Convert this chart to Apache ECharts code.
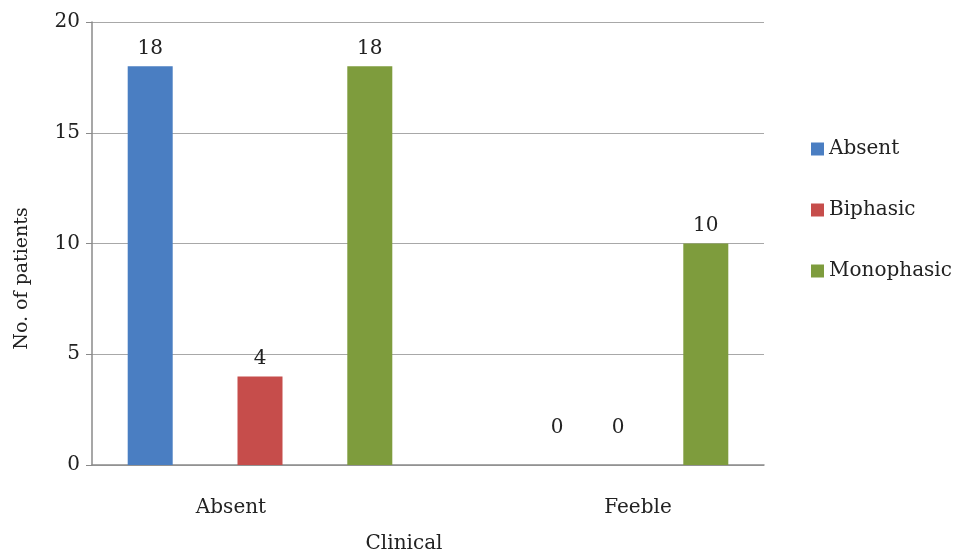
<!DOCTYPE html>
<html>
<head>
<meta charset="utf-8">
<script src="https://cdn.jsdelivr.net/npm/echarts@6/dist/echarts.min.js"></script>
<style>
html,body{margin:0;padding:0;background:#fff;}
#chart{width:956px;height:559px;}
</style>
</head>
<body>
<div id="chart"></div>
<script>
// Clinical pulse finding by Doppler waveform
var categories = ['Absent', 'Feeble'];
var seriesNames = ['Absent', 'Biphasic', 'Monophasic'];
var absentValues = [18, 0];
var biphasicValues = [4, 0];
var monophasicValues = [18, 10];
var yTicks = [0, 5, 10, 15, 20];

var colors = ['#4a7ec2', '#c64d4b', '#7e9c3d'];
var font = 'DejaVu Serif';
var fs = 20;

// zero-valued labels sit a little above the axis, shifted sideways
var zeroLabelShift = { 0: [71, -19], 1: [22, -19] };

function buildData(values, seriesIndex) {
  return values.map(function (v) {
    if (v === 0 && zeroLabelShift[seriesIndex]) {
      return { value: v, label: { offset: zeroLabelShift[seriesIndex] } };
    }
    return v;
  });
}

var valueSets = [absentValues, biphasicValues, monophasicValues];
var series = valueSets.map(function (vals, i) {
  return {
    name: seriesNames[i],
    type: 'bar',
    data: buildData(vals, i),
    barWidth: 45,
    barGap: '144%',
    itemStyle: { color: colors[i] },
    label: {
      show: true,
      position: 'top',
      distance: 8,
      color: '#222',
      fontFamily: font,
      fontSize: fs
    }
  };
});

var chart = echarts.init(document.getElementById('chart'));
chart.setOption({
  backgroundColor: '#fff',
  animation: false,
  textStyle: { fontFamily: font },
  grid: { left: 92, right: 192, top: 22, bottom: 91 },
  legend: {
    orient: 'vertical',
    left: 806,
    top: 134,
    itemWidth: 13,
    itemHeight: 13,
    itemGap: 41,
    icon: 'rect',
    textStyle: { fontFamily: font, fontSize: fs, color: '#222' },
    data: seriesNames
  },
  xAxis: {
    type: 'category',
    data: categories,
    name: 'Clinical',
    nameLocation: 'middle',
    nameGap: 69,
    nameTextStyle: { fontFamily: font, fontSize: fs, color: '#222', padding: [0, 48, 0, 0] },
    axisLine: { lineStyle: { color: '#8a8a8a', width: 1.5 } },
    axisTick: { show: false },
    axisLabel: {
      margin: 33,
      color: '#222',
      fontFamily: font,
      fontSize: fs,
      formatter: function (v) { return v === 'Absent' ? '{a|' + v + '}' : '{f|' + v + '}'; },
      rich: {
        a: { fontFamily: font, fontSize: fs, color: '#222', padding: [0, 58, 0, 0] },
        f: { fontFamily: font, fontSize: fs, color: '#222', padding: [0, 0, 0, 84] }
      }
    }
  },
  yAxis: {
    type: 'value',
    min: yTicks[0],
    max: yTicks[yTicks.length - 1],
    interval: 5,
    name: 'No. of patients',
    nameLocation: 'middle',
    nameGap: 60,
    nameTextStyle: { fontFamily: font, fontSize: 19, color: '#222', padding: [0, 70, 0, 0] },
    axisLine: { show: true, lineStyle: { color: '#8a8a8a', width: 1.5 } },
    axisTick: { show: true, length: 6, lineStyle: { color: '#8a8a8a' } },
    axisLabel: { margin: 12, color: '#222', fontFamily: font, fontSize: fs },
    splitLine: { lineStyle: { color: '#a8a8a8', width: 1 } }
  },
  series: series
});
</script>
</body>
</html>
